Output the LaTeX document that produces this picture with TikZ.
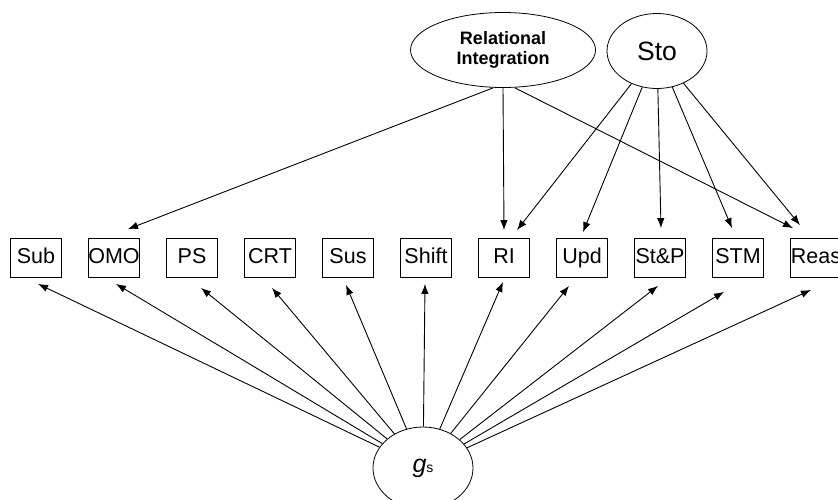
\documentclass[tikz,border=0pt]{standalone}
\usepackage{fontspec}
\setmainfont{Liberation Sans}
\usetikzlibrary{arrows.meta,positioning,shapes.geometric}

\begin{document}
\begin{tikzpicture}[x=1pt,y=-1pt]

\tikzset{measure/.style={draw,line width=0.8pt,minimum width=51pt,minimum height=39pt,inner sep=0pt,text height=15.5pt,text depth=4pt,font=\fontsize{21.5}{25}\selectfont},
factor/.style={draw,ellipse,line width=0.8pt,inner sep=0pt},
load/.style={-{Latex[length=10pt,width=7.5pt]},line width=0.9pt}}

% Frame
\useasboundingbox (0,0) rectangle (838,499);
\clip (0,0) rectangle (838,499);

% Factors
\node[factor,minimum width=185pt,minimum height=75pt,align=center,font=\bfseries\fontsize{18}{20}\selectfont] (relint) at (503,50) {Relational\\Integration};
\node[factor,minimum width=100pt,minimum height=75pt,font=\fontsize{26.5}{30}\selectfont] (sto) at (657,51) {Sto};
\node[factor,minimum width=100pt,minimum height=82pt] (gs) at (423,468) {\fontsize{25}{28}\selectfont\itshape g\fontsize{14}{16}\selectfont\upshape s};

% Measures
\foreach \name/\lab [count=\i from 0] in {sub/Sub,omo/OMO,ps/PS,crt/CRT,sus/Sus,shift/Shift,ri/RI,upd/Upd,stp/St\&P,stm/STM,reas/Reas}
  \node[measure] (\name) at (36+78*\i,258) {\lab};

% Relational integration loadings
\draw[load] ([xshift=-10pt]relint.south) -- ([shift={(14,-9)}]omo.north);
\draw[load] (relint.south) -- ([shift={(0,-8)}]ri.north);
\draw[load] ([xshift=12pt]relint.south) -- ([shift={(-23,-10)}]reas.north);

% Sto loadings
\foreach \name/\dx/\dy in {ri/13/-8,upd/1/-6,stp/1/-10,stm/-6/-10,reas/-16/-13}
  \draw[load] (sto) -- ([shift={(\dx,\dy)}]\name.north);

% General factor loadings
\foreach \name/\dx/\dy in {sub/2/6,omo/2/6,ps/9/10,crt/2/10,sus/-2/7,shift/-1/6,ri/-1/4,upd/-13/8,stp/-2/8,stm/-14/14,reas/-5/12}
  \draw[load] (gs) -- ([shift={(\dx,\dy)}]\name.south);

\end{tikzpicture}
\end{document}
